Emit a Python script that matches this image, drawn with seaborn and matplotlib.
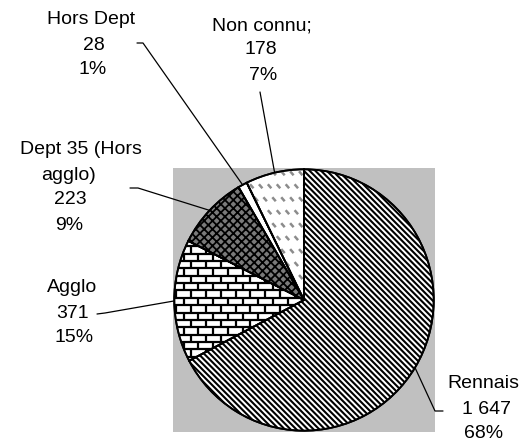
import numpy as np
import matplotlib
matplotlib.use("Agg")
import matplotlib.pyplot as plt
import seaborn as sns
from matplotlib.collections import LineCollection
from matplotlib.lines import Line2D
from matplotlib.patches import Wedge

# ---- data ----
categories = ["Rennais", "Agglo", "Dept 35 (Hors agglo)", "Hors Dept", "Non connu"]
counts = [1647, 371, 223, 28, 178]
count_labels = ["1 647", "371", "223", "28", "178"]
pct_labels = ["68%", "15%", "9%", "1%", "7%"]

sns.set_style("white")
plt.rcParams["font.family"] = ["Liberation Sans", "DejaVu Sans"]
plt.rcParams["hatch.linewidth"] = 2.0

W, H = 521, 443
fig = plt.figure(figsize=(W / 100, H / 100), dpi=100)
fig.patch.set_facecolor("white")
ax = fig.add_axes([173 / W, 1 - 432 / H, 262 / W, 264 / H])

wedges, _ = ax.pie(counts, startangle=90, counterclock=False, radius=1.0,
                   wedgeprops=dict(edgecolor="black", linewidth=1.3))
ax.set_frame_on(True)
ax.set_facecolor("#c0c0c0")
ax.patch.set_visible(True)
ax.set_aspect("auto")
ax.set_xlim(-1.01, 1.01)
ax.set_ylim(-1.01, 1.01)
for s in ax.spines.values():
    s.set_visible(False)
ax.set_xticks([]); ax.set_yticks([])

def set_hlw(p, lw):
    if hasattr(p, "set_hatch_linewidth"):
        p.set_hatch_linewidth(lw)

px = 1 / 131.0

# Rennais: dense diagonal stripes (texture clipped to wedge)
wedges[0].set_facecolor("white")
segs0 = []
sp = 5.8 * px
for c in np.arange(-2.2, 2.2, sp):
    segs0.append([(c - 1.2, 1.2), (c + 1.2, -1.2)])
lc0 = LineCollection(segs0, colors="black", linewidths=1.5, zorder=wedges[0].get_zorder() + 0.1)
ax.add_collection(lc0)
lc0.set_clip_path(wedges[0])

# Agglo: brick pattern (texture clipped to wedge)
wedges[1].set_facecolor("white")
row = 7.4 * px
bw = 15.0 * px
segs = []
ys = np.arange(-1.0, 1.0 + row, row)
for k, y in enumerate(ys):
    segs.append([(-1.1, y), (1.1, y)])
    off = (bw / 2) if k % 2 else 0.0
    for x in np.arange(-1.1 + off, 1.1, bw):
        segs.append([(x, y), (x, y + row)])
lc = LineCollection(segs, colors="black", linewidths=1.6, zorder=wedges[1].get_zorder() + 0.1)
ax.add_collection(lc)
lc.set_clip_path(wedges[1])

# Dept 35: dark crosshatch
wedges[2].set_facecolor("#7a7a7a")
wedges[2].set_hatch("xxxx")
set_hlw(wedges[2], 1.3)

# Hors Dept: plain white
wedges[3].set_facecolor("white")

# Non connu: rows of short grey diagonal dashes
wedges[4].set_facecolor("white")
segs2 = []
rsp = 13.0 * px
dsp = 9.0 * px
for k, y in enumerate(np.arange(-1.0, 1.0, rsp)):
    off = (dsp / 2) if k % 2 else 0.0
    for x in np.arange(-1.0 + off, 1.0, dsp):
        segs2.append([(x, y), (x + 3.5 * px, y - 4.0 * px)])
lc2 = LineCollection(segs2, colors="#8c8c8c", linewidths=1.8, zorder=wedges[4].get_zorder() + 0.1)
ax.add_collection(lc2)
lc2.set_clip_path(wedges[4])

# wedge outlines on top of textures
for w in wedges:
    ax.add_patch(Wedge(w.center, w.r, w.theta1, w.theta2, facecolor="none",
                       edgecolor="black", linewidth=1.3, zorder=5))

# ---- labels ----
fs = 14
label_lines = {
    0: [("Rennais", 483, 383), (count_labels[0], 487, 409), (pct_labels[0], 484, 434)],
    1: [("Agglo", 72, 288), (count_labels[1], 73, 313), (pct_labels[1], 74, 338)],
    2: [("Dept 35 (Hors", 81, 149), ("agglo)", 69, 175), (count_labels[2], 70, 200), (pct_labels[2], 69, 225)],
    3: [("Hors Dept", 91, 20), (count_labels[3], 94, 45), (pct_labels[3], 93, 69)],
    4: [("Non connu;", 262, 26), (count_labels[4], 261, 50), (pct_labels[4], 263, 76)],
}
for i, lines in label_lines.items():
    for s, x, y in lines:
        fig.text(x / W, 1 - y / H, s, ha="center", va="center", fontsize=fs, color="black")

# leader lines from label to wedge mid-angle on the rim
leader_start = {
    0: [(443, 411), (435, 411)],
    1: [(97, 314), (105, 313)],
    2: [(130, 188), (138, 188)],
    3: [(137, 43), (143, 43)],
    4: [(260, 92)],
}
inv = fig.transFigure.inverted()
for i, w in enumerate(wedges):
    ang = np.deg2rad((w.theta1 + w.theta2) / 2)
    pt = (np.cos(ang), np.sin(ang))
    fx, fy = inv.transform(ax.transData.transform(pt))
    xs = [p[0] / W for p in leader_start[i]] + [fx]
    ys = [1 - p[1] / H for p in leader_start[i]] + [fy]
    fig.add_artist(Line2D(xs, ys, color="black", linewidth=0.9, transform=fig.transFigure))

fig.savefig("out.png", dpi=100)
